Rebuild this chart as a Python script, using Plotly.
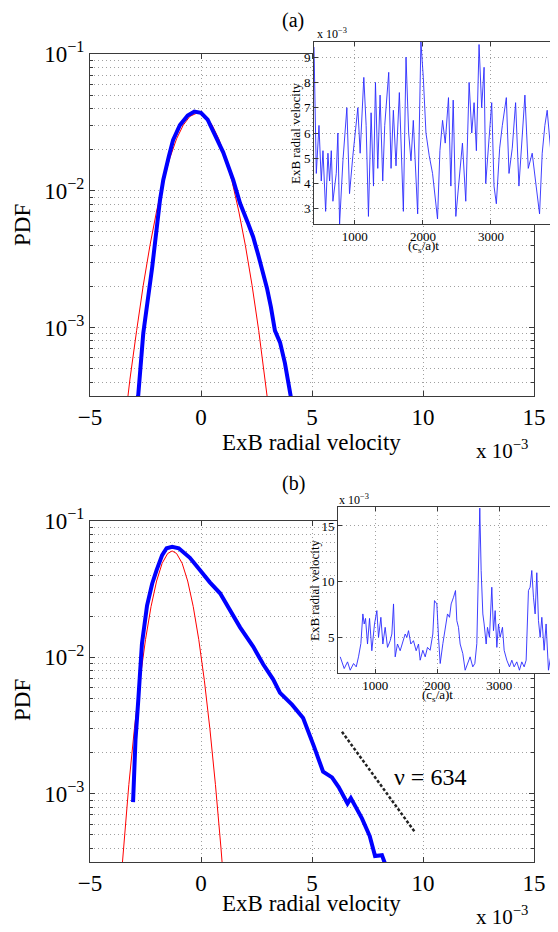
import plotly.graph_objects as go

# ---- main PDFs, x in units of 1e-3 ----
pdf_x_a = [-2.95, -2.83, -2.6, -2.2, -1.85, -1.7, -1.45, -1.26, -0.95, -0.6, -0.3, 0.0, 0.3, 0.55,
           1.0, 1.45, 1.76, 2.1, 2.35, 2.6, 2.8, 2.97, 3.15, 3.33, 3.56, 3.78, 4.04, 4.1]
pdf_y_a = [2.24e-4, 3.16e-4, 9.1e-4, 2.75e-3, 8.5e-3, 0.0120, 0.0178, 0.0234, 0.0302, 0.0355, 0.0380,
           0.0372, 0.0331, 0.0275, 0.0191, 0.0120, 8.1e-3, 5.9e-3, 4.6e-3, 3.3e-3, 2.5e-3, 1.95e-3,
           1.41e-3, 9.5e-4, 7.8e-4, 5.5e-4, 3.16e-4, 2.75e-4]
gauss_x_a = [-3.45, -3.2, -2.9, -2.6, -2.3, -2.0, -1.7, -1.4, -1.1, -0.8, -0.5, -0.15, 0.2, 0.5,
             0.8, 1.1, 1.4, 1.7, 2.0, 2.3, 2.6, 2.9, 3.15]
gauss_y_a = [1.9e-4, 4.2e-4, 9.5e-4, 2.04e-3, 3.98e-3, 7.1e-3, 0.0117, 0.0174, 0.0240, 0.0302, 0.0350,
             0.0372, 0.0350, 0.0302, 0.0240, 0.0174, 0.0117, 7.1e-3, 3.98e-3, 2.04e-3, 9.5e-4,
             4.2e-4, 1.9e-4]

pdf_x_b = [-3.06, -2.95, -2.82, -2.66, -2.43, -2.2, -2.0, -1.75, -1.55, -1.3, -1.0, -0.85, -0.5,
           -0.05, 0.4, 0.86, 1.3, 1.76, 2.35, 2.8, 3.25, 3.56, 4.1, 4.6, 5.1, 5.5, 5.9, 6.2, 6.6,
           6.75, 7.25, 7.6, 7.84, 8.15, 8.4]
pdf_y_b = [8.7e-4, 2.5e-3, 5.0e-3, 0.0126, 0.0240, 0.0347, 0.0437, 0.0562, 0.0631, 0.0646, 0.0631,
           0.0603, 0.0537, 0.0437, 0.0355, 0.0295, 0.0224, 0.0166, 0.0120, 8.9e-3, 6.9e-3, 5.5e-3,
           4.5e-3, 3.6e-3, 2.2e-3, 1.45e-3, 1.32e-3, 1.12e-3, 8.5e-4, 9.3e-4, 6.6e-4, 4.9e-4,
           3.5e-4, 3.55e-4, 2.75e-4]
gauss_x_b = [-3.75, -3.5, -3.25, -3.0, -2.75, -2.5, -2.25, -2.0, -1.75, -1.5, -1.3, -1.1, -0.85,
             -0.6, -0.35, -0.1, 0.15, 0.4, 0.65, 0.9, 1.15]
gauss_y_b = [1.2e-4, 4.0e-4, 1.17e-3, 3.0e-3, 6.8e-3, 0.0135, 0.0236, 0.0363, 0.0490, 0.0578, 0.0603,
             0.0578, 0.0490, 0.0363, 0.0236, 0.0135, 6.8e-3, 3.0e-3, 1.17e-3, 4.0e-4, 1.2e-4]

fit_x_b = [6.35, 9.65]
fit_y_b = [2.85e-3, 5.2e-4]

# ---- inset time series, velocity in units of 1e-3 ----
ts_t_a = [400, 434, 473, 507, 532, 571, 605, 629, 654, 678, 727, 751, 776, 825, 883, 922, 971, 1010,
          1044, 1078, 1132, 1166, 1200, 1239, 1274, 1303, 1337, 1371, 1410, 1439, 1459, 1498, 1532,
          1566, 1605, 1654, 1713, 1752, 1791, 1825, 1859, 1923, 1971, 2006, 2045, 2093, 2142, 2181,
          2215, 2250, 2289, 2328, 2376, 2411, 2445, 2484, 2533, 2581, 2630, 2679, 2718, 2752, 2786,
          2825, 2864, 2899, 2923, 2972, 3011, 3045, 3079, 3128, 3167, 3226, 3265, 3313, 3362, 3411,
          3460, 3499, 3548, 3606, 3655, 3694, 3714, 3753, 3792, 3826, 3875, 3924, 3968]
ts_v_a = [9.4, 4.4, 6.3, 4.1, 5.3, 2.9, 5.2, 4.1, 5.3, 3.3, 4.4, 6.0, 2.4, 4.9, 7.0, 3.6, 5.1, 6.0,
          7.0, 5.2, 8.2, 6.3, 2.7, 6.8, 3.9, 8.0, 4.6, 7.5, 4.1, 6.3, 6.9, 8.4, 4.6, 6.9, 4.7, 7.6,
          2.9, 9.0, 6.0, 4.9, 6.5, 2.8, 9.6, 8.2, 6.0, 5.1, 4.4, 3.3, 2.6, 5.3, 6.5, 5.6, 7.4, 3.9,
          7.3, 2.7, 4.1, 5.6, 3.3, 8.0, 6.0, 7.2, 5.3, 9.5, 7.0, 8.6, 4.0, 6.0, 7.2, 3.9, 3.2, 5.4,
          6.3, 7.4, 4.4, 5.4, 7.2, 3.9, 6.0, 7.5, 4.6, 5.2, 4.1, 3.3, 2.8, 5.2, 6.3, 6.9, 5.4, 7.0,
          5.5]

ts_t_b = [436, 500, 554, 597, 651, 694, 731, 769, 801, 823, 844, 876, 909, 946, 989, 1027, 1054, 1092,
          1124, 1161, 1199, 1242, 1269, 1296, 1323, 1360, 1403, 1446, 1484, 1511, 1538, 1575, 1618,
          1661, 1699, 1726, 1769, 1807, 1844, 1887, 1930, 1957, 1995, 2022, 2049, 2092, 2129, 2167,
          2199, 2226, 2264, 2296, 2317, 2344, 2371, 2414, 2452, 2489, 2532, 2575, 2608, 2640, 2667,
          2688, 2710, 2737, 2758, 2791, 2812, 2844, 2882, 2909, 2936, 2963, 2990, 3016, 3054, 3081,
          3124, 3167, 3205, 3242, 3285, 3328, 3366, 3404, 3436, 3473, 3500, 3527, 3554, 3581, 3608,
          3635, 3662, 3689, 3726, 3758, 3796, 3834, 3866, 3904, 3952]
ts_v_b = [3.25, 2.2, 2.8, 2.05, 2.65, 2.35, 3.25, 4.44, 7.1, 6.2, 6.7, 4.4, 6.7, 3.8, 6.2, 7.4, 5.0,
          6.8, 4.4, 5.9, 4.1, 4.7, 5.3, 8.0, 3.25, 4.4, 3.8, 4.7, 5.3, 5.0, 5.6, 4.4, 4.7, 3.8, 4.4,
          2.95, 3.84, 3.25, 4.1, 3.84, 5.3, 8.3, 8.0, 5.0, 2.65, 4.44, 5.9, 7.1, 6.8, 8.0, 8.6, 9.2,
          6.5, 5.9, 4.4, 3.54, 2.05, 2.65, 3.25, 2.35, 2.65, 4.44, 10.1, 16.6, 11.0, 7.1, 6.2, 4.4,
          5.9, 5.0, 9.5, 5.6, 7.4, 4.1, 6.2, 5.0, 5.9, 3.84, 2.95, 2.35, 2.95, 2.35, 2.8, 2.05, 2.8,
          2.35, 2.95, 9.2, 9.5, 11.0, 8.6, 7.1, 10.8, 6.5, 5.0, 6.8, 3.84, 6.2, 2.05, 3.54, 4.44,
          5.6, 5.0]

x_ticks = [-5, 0, 5, 10, 15]
x_ticktext = ["\u22125", "0", "5", "10", "15"]
y_ticks = [1e-3, 1e-2, 1e-1]
y_ticktext = ["10<sup>\u22123</sup>", "10<sup>\u22122</sup>", "10<sup>\u22121</sup>"]
y_minor = [4e-4, 5e-4, 6e-4, 7e-4, 8e-4, 9e-4, 2e-3, 3e-3, 4e-3, 5e-3, 6e-3, 7e-3, 8e-3, 9e-3,
           2e-2, 3e-2, 4e-2, 5e-2, 6e-2, 7e-2, 8e-2, 9e-2]
ts_ticks = [1000, 2000, 3000]
ts_yticks_a = [3, 4, 5, 6, 7, 8, 9]
ts_yticks_b = [5, 10, 15]

# the page body puts the figure 8px in from the window corner
OFF = 8
W, H = 558 - OFF, 932 - OFF
FONT = "Liberation Serif, Times New Roman, serif"
BLUE = "#0000ff"
RED = "#ff0000"
GRID = "#a0a0a0"
LINE = "#3a3a3a"
DOT = "1px,3px"


def px(x):
    return (x - OFF) / W


def py(y):
    return 1 - (y - OFF) / H


fig = go.Figure()

# panel (a)
fig.add_trace(go.Scatter(x=gauss_x_a, y=gauss_y_a, mode="lines", line=dict(color=RED, width=1),
                         xaxis="x", yaxis="y", showlegend=False))
fig.add_trace(go.Scatter(x=pdf_x_a, y=pdf_y_a, mode="lines", line=dict(color=BLUE, width=4),
                         xaxis="x", yaxis="y", showlegend=False))
# panel (b)
fig.add_trace(go.Scatter(x=gauss_x_b, y=gauss_y_b, mode="lines", line=dict(color=RED, width=1),
                         xaxis="x2", yaxis="y2", showlegend=False))
fig.add_trace(go.Scatter(x=pdf_x_b, y=pdf_y_b, mode="lines", line=dict(color=BLUE, width=4),
                         xaxis="x2", yaxis="y2", showlegend=False))
fig.add_trace(go.Scatter(x=fit_x_b, y=fit_y_b, mode="lines",
                         line=dict(color="#222222", width=2.5, dash="3px,2px"),
                         xaxis="x2", yaxis="y2", showlegend=False))
# insets
fig.add_trace(go.Scatter(x=ts_t_a, y=ts_v_a, mode="lines", line=dict(color="#2a2aff", width=0.9),
                         xaxis="x3", yaxis="y3", showlegend=False))
fig.add_trace(go.Scatter(x=ts_t_b, y=ts_v_b, mode="lines", line=dict(color="#2a2aff", width=0.9),
                         xaxis="x4", yaxis="y4", showlegend=False))

main_x = dict(range=[-5, 15], tickmode="array", tickvals=x_ticks, ticktext=x_ticktext,
              ticks="inside", ticklen=5, tickcolor=LINE, showline=True, linecolor=LINE, linewidth=1,
              mirror="ticks", showgrid=True, gridcolor=GRID, griddash=DOT, zeroline=False,
              automargin=False, tickfont=dict(family=FONT, size=23, color="black"))
main_y = dict(type="log", range=[-3.5, -1], tickmode="array", tickvals=y_ticks, ticktext=y_ticktext,
              ticks="inside", ticklen=5, tickcolor=LINE, showline=True, linecolor=LINE, linewidth=1,
              mirror="ticks", showgrid=True, gridcolor=GRID, griddash=DOT, zeroline=False,
              automargin=False, tickfont=dict(family=FONT, size=23, color="black"),
              minor=dict(tickmode="array", tickvals=y_minor, ticks="inside", ticklen=3, tickcolor=LINE,
                         showgrid=True, gridcolor=GRID, griddash=DOT))
ins_x = dict(tickmode="array", tickvals=ts_ticks, ticks="inside", ticklen=4, tickcolor=LINE,
             showline=True, linecolor=LINE, linewidth=1, mirror="ticks", showgrid=True,
             gridcolor=GRID, griddash=DOT, zeroline=False, automargin=False,
             tickfont=dict(family=FONT, size=13, color="black"))
ins_y = dict(tickmode="array", ticks="inside", ticklen=4, tickcolor=LINE, showline=True,
             linecolor=LINE, linewidth=1, showgrid=True, gridcolor=GRID, griddash=DOT,
             zeroline=False, automargin=False, tickfont=dict(family=FONT, size=13, color="black"))

fig.update_layout(
    width=W, height=H, margin=dict(l=0, r=0, t=0, b=0, autoexpand=False),
    paper_bgcolor="white", plot_bgcolor="white",
    xaxis=dict(main_x, domain=[px(90), px(534)], anchor="y"),
    yaxis=dict(main_y, domain=[py(396), py(54)], anchor="x"),
    xaxis2=dict(main_x, domain=[px(90), px(534)], anchor="y2"),
    yaxis2=dict(main_y, domain=[py(862), py(521)], anchor="x2"),
    xaxis3=dict(ins_x, domain=[px(314), 1.0], anchor="y3", range=[400, 3985]),
    yaxis3=dict(ins_y, domain=[py(224), py(42)], anchor="x3", range=[2.4, 9.6], tickvals=ts_yticks_a),
    xaxis4=dict(ins_x, domain=[px(338), 1.0], anchor="y4", range=[400, 3950]),
    yaxis4=dict(ins_y, domain=[py(673), py(507)], anchor="x4", range=[1.8, 16.7], tickvals=ts_yticks_b),
)


def label(text, x, y, size, angle=0):
    fig.add_annotation(text=text, x=px(x), y=py(y), xref="paper", yref="paper", showarrow=False,
                       textangle=angle, xanchor="center", yanchor="middle",
                       font=dict(family=FONT, size=size, color="black"))


label("(a)", 293, 20, 20)
label("(b)", 293, 483, 20)
label("PDF", 22, 225, 23, -90)
label("PDF", 22, 700, 23, -90)
label("ExB radial velocity", 311, 442, 23)
label("ExB radial velocity", 311, 903, 23)
label("x 10<sup>\u22123</sup>", 502, 449, 21)
label("x 10<sup>\u22123</sup>", 502, 915, 21)
label("x 10<sup>\u22123</sup>", 332, 34, 12)
label("x 10<sup>\u22123</sup>", 354, 499, 12)
label("ExB radial velocity", 296, 133, 13, -90)
label("ExB radial velocity", 314, 590, 13, -90)
label("(c<sub>s</sub>/a)t", 423, 246, 13)
label("(c<sub>s</sub>/a)t", 437, 695, 13)
label("\u03bd = 634", 430, 777, 24)

fig.write_html("out.html")
